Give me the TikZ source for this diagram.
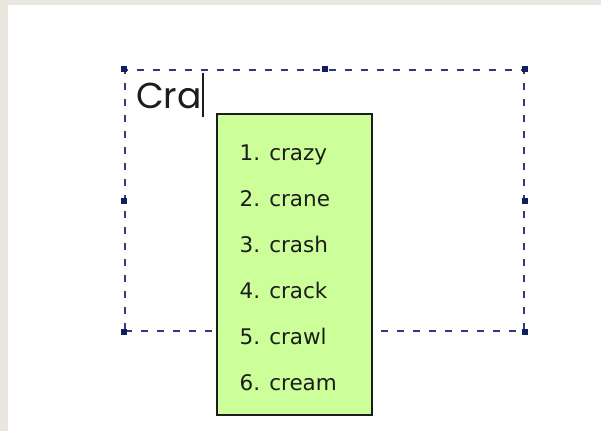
\documentclass[tikz,border=0pt]{standalone}
\usepackage{fontspec}
\newfontfamily\bigfont{Poppins}
\newfontfamily\listfont{DejaVu Sans}
\definecolor{bgray}{HTML}{E9E6E0}
\definecolor{navy}{HTML}{2B3C7C}
\definecolor{handle}{HTML}{0F1E5E}
\definecolor{lgreen}{HTML}{CCFF99}
\definecolor{ink}{HTML}{1C1C1C}
\tikzset{
  frame/.style={draw=navy, line width=2.3pt, dash pattern=on 7pt off 9pt, minimum width=399pt, minimum height=261pt, inner sep=0pt},
  handlebox/.style={fill=handle, minimum size=6pt, inner sep=0pt},
  listbox/.style={draw=ink, fill=lgreen, line width=1.6pt, minimum width=155pt, minimum height=301pt, inner sep=0pt},
  item/.style={font=\listfont\fontsize{21.5}{21.5}\selectfont, text=ink, anchor=base west, inner sep=0pt},
}
\begin{document}
\begin{tikzpicture}[x=1pt,y=-1pt]
\useasboundingbox (0,0) rectangle (601,431);
\fill[bgray] (0,0) rectangle (601,431);
\fill[white] (8,5) rectangle (601,431);
\node[frame] (fr) at (324.5,200.5) {};
\foreach \a in {north west,north,north east,west,east,south west,south,south east}
  \node[handlebox] (h-\a) at (fr.\a) {};
\node[anchor=base west, inner sep=0pt, text=ink, font=\bigfont\fontsize{36}{36}\selectfont] (cra) at (136,108) {Cra};
\coordinate (curtop) at (203,73);
\coordinate (curbot) at (203,117);
\draw[ink, line width=1.5pt] (curtop) -- (curbot);
\node[listbox] (list) at (294.5,264.5) {};
\node[item] (i1) at (239.5,160.7) {1. crazy};
\node[item] (i2) at (239.5,206.6) {2. crane};
\node[item] (i3) at (239.5,252.5) {3. crash};
\node[item] (i4) at (239.5,298.4) {4. crack};
\node[item] (i5) at (239.5,344.3) {5. crawl};
\node[item] (i6) at (239.5,390.2) {6. cream};
\end{tikzpicture}
\end{document}
